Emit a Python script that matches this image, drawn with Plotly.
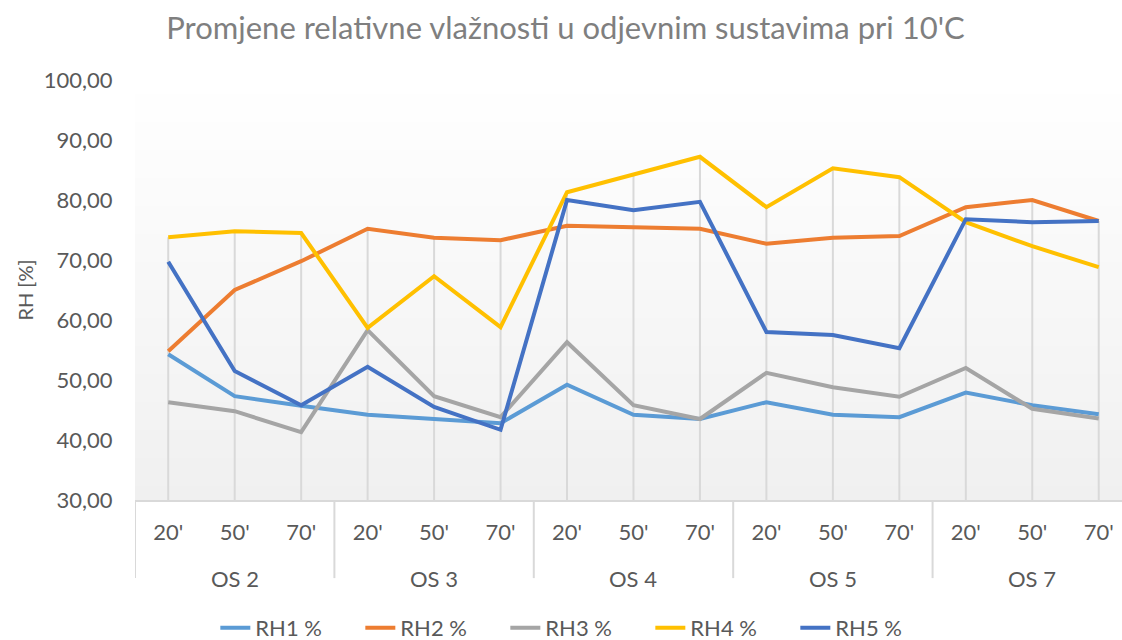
import plotly.graph_objects as go

# Odjevni sustavi (grupe) i vremena mjerenja
groups = ["OS 2", "OS 3", "OS 4", "OS 5", "OS 7"]
times = ["20'", "50'", "70'"]

# Relativna vlažnost [%] po senzoru, redom OS2..OS7 x 20'/50'/70'
rh1 = [54.3, 47.3, 45.7, 44.2, 43.5, 42.8, 49.2, 44.2, 43.5, 46.3, 44.2, 43.8, 47.9, 45.8, 44.3]
rh2 = [54.8, 65.0, 69.8, 75.2, 73.7, 73.3, 75.7, 75.5, 75.2, 72.7, 73.7, 74.0, 78.8, 80.0, 76.5]
rh3 = [46.3, 44.8, 41.3, 58.3, 47.3, 43.8, 56.3, 45.8, 43.5, 51.2, 48.8, 47.2, 52.0, 45.2, 43.6]
rh4 = [73.8, 74.8, 74.5, 58.7, 67.3, 58.8, 81.3, 84.2, 87.2, 78.8, 85.3, 83.8, 76.3, 72.3, 68.8]
rh5 = [69.7, 51.5, 45.8, 52.2, 45.5, 41.7, 80.0, 78.3, 79.7, 58.0, 57.5, 55.3, 76.8, 76.3, 76.5]

series_names = ["RH1 %", "RH2 %", "RH3 %", "RH4 %", "RH5 %"]
series_values = [rh1, rh2, rh3, rh4, rh5]
colors = ["#5B9BD5", "#ED7D31", "#A5A5A5", "#FFC000", "#4472C4"]

Y_MIN, Y_MAX = 30, 100
FONT = "Lato"
TEXT = "#595959"
GRID = "#D9D9D9"

n_t = len(times)
pos = list(range(len(groups) * n_t))          # položaj svake kategorije na osi x
inner = [t for _ in groups for t in times]      # donji red oznaka: vrijeme

fig = go.Figure()

# Okomite linije od najviše vrijednosti do osi
drop_x, drop_y = [], []
for i in pos:
    top = max(s[i] for s in series_values)
    drop_x += [i, i, None]
    drop_y += [Y_MIN, top, None]
fig.add_trace(go.Scatter(
    x=drop_x, y=drop_y, mode="lines",
    line=dict(color=GRID, width=2), showlegend=False, hoverinfo="skip",
))

for name, vals, col in zip(series_names, series_values, colors):
    fig.add_trace(go.Scatter(
        x=pos, y=vals, mode="lines", name=name,
        line=dict(color=col, width=4),
    ))

# Gradijentna pozadina područja crtanja (bijelo -> svijetlo sivo)
n_steps = 60
for k in range(n_steps):
    t = k / (n_steps - 1)
    c = round(255 - (255 - 240) * t)
    y1 = Y_MAX - (Y_MAX - Y_MIN) * k / n_steps
    y0 = Y_MAX - (Y_MAX - Y_MIN) * (k + 1) / n_steps
    fig.add_shape(type="rect", xref="paper", yref="y", x0=0, x1=1, y0=y0, y1=y1,
                  fillcolor=f"rgb({c},{c},{c})", line=dict(width=0), layer="below")

# Gornji red oznaka grupa (OS) i razdjelnici ispod osi
for g_i, g in enumerate(groups):
    center = g_i * n_t + (n_t - 1) / 2
    fig.add_annotation(
        x=center, xref="x", y=0, yref="paper", yshift=-78, yanchor="middle",
        text=g, showarrow=False, font=dict(family=FONT, size=22, color=TEXT),
    )
    left = g_i * n_t - 0.5
    fig.add_shape(type="line", xref="x", yref="paper", x0=left, x1=left,
                  y0=0, y1=-0.186, line=dict(color=GRID, width=2))

fig.update_layout(
    width=1122, height=640,
    margin=dict(l=135, r=0, t=80, b=140),
    paper_bgcolor="white", plot_bgcolor="white",
    separators=",.",
    font=dict(family=FONT, color=TEXT, size=22),
    title=dict(
        text="Promjene relativne vlažnosti u odjevnim sustavima pri 10'C",
        font=dict(family=FONT, size=31, color="#7F7F7F"),
        x=0.504, xref="container", xanchor="center", y=0.956, yanchor="middle",
    ),
    showlegend=True,
    legend=dict(
        orientation="h", xref="container", x=0.515, xanchor="center",
        yref="container", y=0.019, yanchor="middle",
        font=dict(family=FONT, size=22, color=TEXT),
        entrywidth=100, entrywidthmode="pixels", bgcolor="rgba(0,0,0,0)",
    ),
)

fig.update_yaxes(
    range=[Y_MIN, Y_MAX], dtick=10, tickformat=".2f",
    showgrid=False, zeroline=False, showline=False,
    ticks="outside", ticklen=17, tickcolor="rgba(0,0,0,0)",
    tickfont=dict(family=FONT, size=22, color=TEXT),
    title=dict(text="RH [%]", font=dict(family=FONT, size=20, color=TEXT), standoff=4),
)

fig.update_xaxes(
    range=[-0.5, 14.35], tickmode="array", tickvals=pos, ticktext=inner,
    showgrid=False, zeroline=False,
    showline=True, linecolor=GRID, linewidth=2,
    ticks="outside", ticklen=12, tickcolor="rgba(0,0,0,0)",
    tickfont=dict(family=FONT, size=22, color=TEXT),
)

fig.write_html("out.html")
